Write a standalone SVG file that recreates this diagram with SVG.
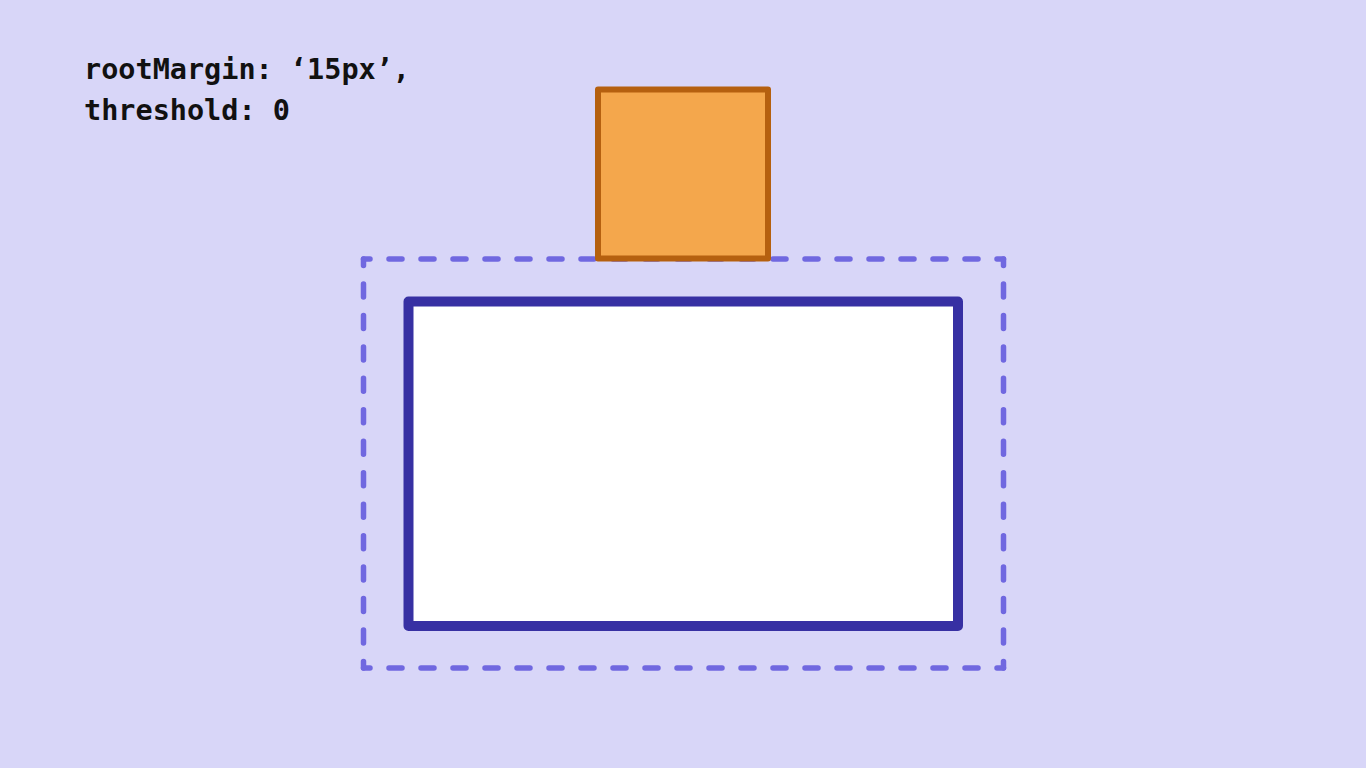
<svg xmlns="http://www.w3.org/2000/svg" width="1366" height="768" viewBox="0 0 1366 768">
<style>
.label{font-family:"DejaVu Sans Mono","Liberation Mono",monospace;font-weight:bold;font-size:28.5px;fill:#111111}
.dash{fill:none;stroke:#7068e0;stroke-width:5.5;stroke-linecap:round;stroke-dashoffset:6.5}
.h{stroke-dasharray:13 19}
.v{stroke-dasharray:13 18.46}
</style>
<rect x="0" y="0" width="1366" height="768" fill="#d8d6f8"/>
<g id="config-label">
<text class="label" x="84" y="79">rootMargin: ‘15px’,</text>
<text class="label" x="84" y="120">threshold: 0</text>
</g>
<g id="root-margin">
<path class="dash h" d="M363.5 259H1003.5"/>
<path class="dash v" d="M1003.5 259V668"/>
<path class="dash h" d="M363.5 668H1003.5"/>
<path class="dash v" d="M363.5 259V668"/>
</g>
<g id="root">
<rect x="408.5" y="301.5" width="549.5" height="324.5" fill="#ffffff" stroke="#3730a3" stroke-width="10" stroke-linejoin="round"/>
</g>
<g id="target">
<rect x="598" y="89.5" width="170" height="169" fill="#f4a74c" stroke="#b5600f" stroke-width="6" stroke-linejoin="round"/>
</g>
<g id="connectors"></g>
</svg>
